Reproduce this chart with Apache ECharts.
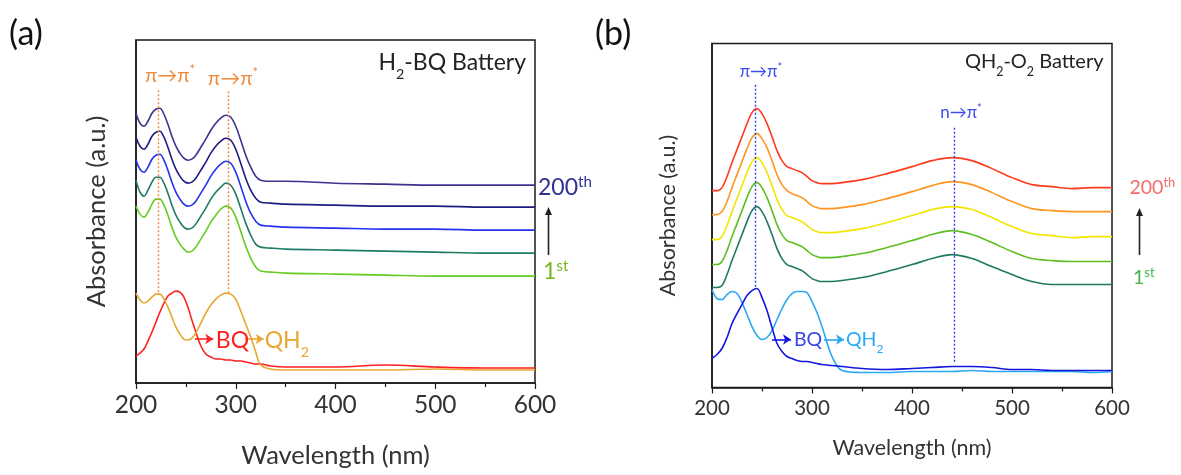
<!DOCTYPE html>
<html>
<head>
<meta charset="utf-8">
<script src="https://cdn.jsdelivr.net/npm/echarts/dist/echarts.min.js"></script>
<style>
  html, body { margin: 0; padding: 0; background: #fff; }
  #main { width: 1181px; height: 475px; }
</style>
</head>
<body>
<div id="main"></div>
<script>
// ---- panel (a): H2-BQ battery ----
const wlA = [200, 204, 208, 212, 216, 220, 224, 228, 232, 236, 240, 244, 248, 252, 256, 260, 265, 270,
  275, 280, 285, 290, 295, 300, 305, 310, 315, 320, 325, 335, 350, 400, 450, 500, 550, 600];
const cycA200 = [2.70, 2.60, 2.57, 2.62, 2.70, 2.74, 2.75, 2.69, 2.59, 2.47, 2.37, 2.30, 2.25, 2.23, 2.24, 2.28, 2.36, 2.44,
  2.53, 2.60, 2.65, 2.68, 2.66, 2.57, 2.43, 2.28, 2.16, 2.07, 2.03, 2.02, 2.02, 2.00, 1.99, 1.98, 1.98, 1.98];
const cycA150 = [2.46, 2.37, 2.34, 2.39, 2.47, 2.51, 2.52, 2.46, 2.36, 2.24, 2.14, 2.07, 2.02, 2.00, 2.01, 2.05, 2.13, 2.21,
  2.30, 2.37, 2.42, 2.45, 2.43, 2.34, 2.20, 2.05, 1.93, 1.85, 1.81, 1.80, 1.79, 1.78, 1.77, 1.77, 1.76, 1.76];
const cycA100 = [2.23, 2.14, 2.11, 2.16, 2.24, 2.28, 2.29, 2.23, 2.13, 2.01, 1.91, 1.84, 1.79, 1.77, 1.78, 1.82, 1.90, 1.98,
  2.07, 2.14, 2.19, 2.22, 2.20, 2.11, 1.97, 1.82, 1.70, 1.62, 1.58, 1.57, 1.56, 1.55, 1.54, 1.54, 1.53, 1.53];
const cycA50 = [2.03, 1.91, 1.87, 1.93, 2.01, 2.06, 2.06, 2.00, 1.90, 1.78, 1.68, 1.61, 1.56, 1.54, 1.55, 1.59, 1.67, 1.75,
  1.84, 1.91, 1.96, 2.00, 1.98, 1.89, 1.75, 1.60, 1.48, 1.39, 1.36, 1.35, 1.34, 1.33, 1.32, 1.31, 1.30, 1.30];
const cycA1 = [1.77, 1.69, 1.66, 1.71, 1.79, 1.84, 1.84, 1.78, 1.68, 1.56, 1.46, 1.39, 1.34, 1.31, 1.32, 1.36, 1.44, 1.52,
  1.61, 1.68, 1.74, 1.77, 1.75, 1.66, 1.52, 1.37, 1.25, 1.16, 1.12, 1.11, 1.10, 1.09, 1.08, 1.07, 1.07, 1.07];
const qh2A = [0.90, 0.83, 0.80, 0.82, 0.86, 0.89, 0.89, 0.84, 0.76, 0.66, 0.56, 0.49, 0.44, 0.43, 0.45, 0.50, 0.60, 0.70,
  0.78, 0.84, 0.88, 0.90, 0.89, 0.84, 0.72, 0.59, 0.46, 0.31, 0.18, 0.14, 0.13, 0.13, 0.13, 0.14, 0.13, 0.13];
const bqA = [0.27, 0.30, 0.34, 0.42, 0.51, 0.61, 0.71, 0.80, 0.87, 0.90, 0.92, 0.91, 0.86, 0.76, 0.63, 0.51, 0.37, 0.29,
  0.26, 0.24, 0.24, 0.23, 0.23, 0.22, 0.22, 0.21, 0.20, 0.19, 0.19, 0.17, 0.16, 0.16, 0.18, 0.16, 0.15, 0.15];

// ---- panel (b): QH2-O2 battery ----
const wlB = [200, 205, 210, 215, 220, 225, 230, 235, 240, 245, 250, 255, 260, 265, 270, 275, 280, 285, 290,
  295, 300, 305, 310, 320, 330, 350, 375, 400, 420, 440, 460, 480, 500, 520, 540, 560, 580, 600];
const cycB200 = [1.97, 1.97, 2.00, 2.11, 2.25, 2.38, 2.51, 2.64, 2.75, 2.79, 2.74, 2.64, 2.51, 2.37, 2.27, 2.21, 2.19, 2.17, 2.15,
  2.11, 2.07, 2.05, 2.04, 2.04, 2.05, 2.08, 2.14, 2.21, 2.27, 2.30, 2.27, 2.19, 2.10, 2.03, 2.01, 1.99, 2.00, 2.00];
const cycB150 = [1.73, 1.73, 1.76, 1.86, 2.00, 2.13, 2.26, 2.39, 2.50, 2.54, 2.49, 2.40, 2.27, 2.13, 2.03, 1.97, 1.94, 1.92, 1.90,
  1.86, 1.82, 1.80, 1.79, 1.79, 1.80, 1.83, 1.89, 1.96, 2.02, 2.06, 2.03, 1.95, 1.86, 1.79, 1.77, 1.76, 1.76, 1.76];
const cycB100 = [1.48, 1.48, 1.51, 1.62, 1.76, 1.89, 2.02, 2.15, 2.26, 2.30, 2.25, 2.15, 2.02, 1.88, 1.78, 1.72, 1.70, 1.68, 1.66,
  1.62, 1.58, 1.56, 1.55, 1.55, 1.56, 1.59, 1.65, 1.72, 1.78, 1.81, 1.78, 1.70, 1.61, 1.54, 1.52, 1.50, 1.51, 1.51];
const cycB50 = [1.23, 1.23, 1.26, 1.37, 1.51, 1.64, 1.77, 1.90, 2.01, 2.05, 2.00, 1.90, 1.77, 1.63, 1.53, 1.47, 1.45, 1.43, 1.41,
  1.37, 1.33, 1.31, 1.30, 1.30, 1.31, 1.34, 1.40, 1.47, 1.53, 1.57, 1.53, 1.45, 1.36, 1.29, 1.27, 1.26, 1.26, 1.26];
const cycB1 = [1.00, 1.00, 1.02, 1.13, 1.27, 1.40, 1.53, 1.66, 1.77, 1.81, 1.76, 1.66, 1.53, 1.39, 1.29, 1.23, 1.21, 1.19, 1.17,
  1.13, 1.09, 1.07, 1.06, 1.06, 1.07, 1.10, 1.16, 1.23, 1.29, 1.33, 1.29, 1.21, 1.13, 1.06, 1.03, 1.03, 1.03, 1.03];
const qh2B = [0.98, 0.89, 0.88, 0.93, 0.96, 0.94, 0.85, 0.73, 0.61, 0.52, 0.48, 0.50, 0.57, 0.68, 0.79, 0.88, 0.94, 0.96, 0.96,
  0.95, 0.86, 0.75, 0.61, 0.31, 0.17, 0.15, 0.15, 0.16, 0.16, 0.16, 0.17, 0.16, 0.16, 0.16, 0.16, 0.16, 0.15, 0.16];
const bqB = [0.29, 0.33, 0.39, 0.50, 0.64, 0.74, 0.83, 0.92, 0.97, 0.99, 0.90, 0.77, 0.60, 0.44, 0.36, 0.31, 0.29, 0.27, 0.26,
  0.26, 0.25, 0.24, 0.23, 0.22, 0.21, 0.19, 0.18, 0.19, 0.20, 0.21, 0.21, 0.20, 0.18, 0.18, 0.17, 0.17, 0.17, 0.17];

const xTicks = [200, 300, 400, 500, 600];
// peak positions used for the dotted guide lines
const peaksA = [222, 292];
const peaksB = [243.7, 442.4];

const FONT = 'Lato, "Open Sans", "DejaVu Sans", sans-serif';
const INK = '#1a1a1a';
const TXT = '#333';

const chart = echarts.init(document.getElementById('main'), null, { renderer: 'canvas' });

function pairs(wl, vals) {
  return wl.map((x, i) => [x, vals[i]]);
}

function curve(g, wl, vals, color, extra) {
  return Object.assign({
    type: 'line',
    xAxisIndex: g,
    yAxisIndex: g,
    data: pairs(wl, vals),
    smooth: 0.35,
    symbol: 'none',
    showSymbol: false,
    silent: true,
    lineStyle: { width: 1.6, color: color },
    itemStyle: { color: color },
  }, extra || {});
}

function guide(x, y0, y1, color) {
  return [{ coord: [x, y0], lineStyle: { color: color, type: [2, 2], width: 1.4 } }, { coord: [x, y1] }];
}

function arrow(x0, x1, y, color) {
  return [{ coord: [x0, y], lineStyle: { color: color, type: 'solid', width: 1.6 } }, { coord: [x1, y] }];
}

function xAxis(g, fs, nameGap) {
  return {
    type: 'value', gridIndex: g, min: 200, max: 600, interval: 100,
    axisLine: { show: true, onZero: false, lineStyle: { color: INK, width: 1.5 } },
    axisTick: { show: true, inside: false, length: 6, lineStyle: { color: INK, width: 1.2 } },
    minorTick: { show: true, splitNumber: 2, length: 4, lineStyle: { color: INK, width: 1.2 } },
    splitLine: { show: false }, minorSplitLine: { show: false },
    axisLabel: { fontSize: fs, color: TXT, margin: 10, fontFamily: FONT, formatter: v => xTicks.includes(v) ? String(v) : '' },
    name: 'Wavelength (nm)', nameLocation: 'middle', nameGap: nameGap,
    nameTextStyle: { fontSize: fs + 1, color: TXT, fontFamily: FONT },
  };
}

function yAxis(g, max, fs, nameGap) {
  return {
    type: 'value', gridIndex: g, min: 0, max: max,
    axisLine: { show: true, onZero: false, lineStyle: { color: INK, width: 1.5 } },
    axisTick: { show: false }, axisLabel: { show: false }, splitLine: { show: false },
    name: 'Absorbance (a.u.)', nameLocation: 'middle', nameGap: nameGap,
    nameTextStyle: { fontSize: fs, color: TXT, fontFamily: FONT },
  };
}

const markBase = { silent: true, symbol: ['none', 'none'], label: { show: false }, animation: false };

chart.setOption({
  animation: false,
  backgroundColor: '#fff',
  grid: [
    { left: 136, top: 40, width: 399, height: 343, show: true, borderColor: INK, borderWidth: 1.5, outerBoundsMode: 'none' },
    { left: 712, top: 43.5, width: 400, height: 344, show: true, borderColor: INK, borderWidth: 1.5, outerBoundsMode: 'none' },
  ],
  xAxis: [xAxis(0, 24.5, 60), xAxis(1, 20.5, 50)],
  yAxis: [yAxis(0, 3.433, 25.5, 26), yAxis(1, 3.442, 21.5, 33)],
  series: [
    curve(0, wlA, cycA1, '#66cc22'),
    curve(0, wlA, cycA50, '#1f7a66'),
    curve(0, wlA, cycA100, '#2233ee'),
    curve(0, wlA, cycA150, '#1c1c84'),
    curve(0, wlA, cycA200, '#40308f'),
    curve(0, wlA, bqA, '#ff2020', {
      markLine: Object.assign({}, markBase, { symbol: ['none', 'arrow'], symbolSize: [8, 8],
        data: [arrow(259, 277.5, 0.44, '#ff2020')] }),
    }),
    curve(0, wlA, qh2A, '#e6a82e', {
      markLine: Object.assign({}, markBase, {
        data: [guide(peaksA[0], 2.93, 0.89, '#f08a3c'), guide(peaksA[1], 2.92, 0.89, '#f08a3c')],
      }),
    }),
    curve(0, wlA, qh2A, '#e6a82e', {
      lineStyle: { width: 0 },
      markLine: Object.assign({}, markBase, { symbol: ['none', 'arrow'], symbolSize: [8, 8],
        data: [arrow(309, 328, 0.44, '#e6a82e')] }),
    }),

    curve(1, wlB, cycB1, '#1f7a5c'),
    curve(1, wlB, cycB50, '#5cbf1f'),
    curve(1, wlB, cycB100, '#f2e600'),
    curve(1, wlB, cycB150, '#ff9520'),
    curve(1, wlB, cycB200, '#ff3b1f'),
    curve(1, wlB, qh2B, '#2aa8f2', {
      markLine: Object.assign({}, markBase, { symbol: ['none', 'arrow'], symbolSize: [8, 8],
        data: [arrow(312, 332, 0.48, '#2aa8f2')] }),
    }),
    curve(1, wlB, bqB, '#1515e0', {
      markLine: Object.assign({}, markBase, {
        data: [guide(peaksB[0], 3.03, 1.00, '#2b3cf0'), guide(peaksB[1], 2.60, 0.25, '#2b3cf0')],
      }),
    }),
    curve(1, wlB, bqB, '#1515e0', {
      lineStyle: { width: 0 },
      markLine: Object.assign({}, markBase, { symbol: ['none', 'arrow'], symbolSize: [8, 8],
        data: [arrow(260, 279, 0.48, '#1515e0')] }),
    }),
  ],
});

// ---- annotation texts ----
function at(g, x, y) {
  return chart.convertToPixel({ gridIndex: g }, [x, y]);
}

function richText(x, y, text, size, color, align, rich) {
  return {
    type: 'text', x: x, y: y, silent: true, z: 100,
    style: {
      text: text, fill: color, fontSize: size, fontFamily: FONT,
      align: align || 'left', verticalAlign: 'middle', rich: rich || {},
    },
  };
}

function supRich(size, color) {
  return {
    t: { fontSize: size, fill: color, fontFamily: FONT, lineHeight: size * 1.2 },
    s: { fontSize: size * 0.66, fill: color, fontFamily: FONT, verticalAlign: 'top', lineHeight: size * 1.1 },
  };
}

function subRich(size, color) {
  return {
    t: { fontSize: size, fill: color, fontFamily: FONT, lineHeight: size * 1.2 },
    b: { fontSize: size * 0.62, fill: color, fontFamily: FONT, verticalAlign: 'bottom', lineHeight: size * 1.2, padding: [0, 0, -size * 0.2, 0] },
  };
}

function arrowUp(x, yTail, yHead) {
  return [
    { type: 'line', silent: true, shape: { x1: x, y1: yTail, x2: x, y2: yHead + 6 }, style: { stroke: '#222', lineWidth: 1.6 } },
    { type: 'polygon', silent: true, shape: { points: [[x - 3.5, yHead + 8], [x + 3.5, yHead + 8], [x, yHead]] }, style: { fill: '#222' } },
  ];
}

const g = [];
g.push(richText(9, 34, '(a)', 34, '#111'));
g.push(richText(595, 34, '(b)', 34, '#111'));

// panel (a)
const orangeA = '#f08a3c';
let p = at(0, 209, 3.08);
g.push(richText(p[0], p[1], '{t|π→π}{s|*}', 0, orangeA, 'left', supRich(20, orangeA)));
p = at(0, 272, 3.05);
g.push(richText(p[0], p[1], '{t|π→π}{s|*}', 0, orangeA, 'left', supRich(20, orangeA)));
p = at(0, 280, 0.42);
g.push(richText(p[0], p[1], '{t|BQ}', 0, '#ff2020', 'left', subRich(23, '#ff2020')));
p = at(0, 329, 0.42);
g.push(richText(p[0], p[1], '{t|QH}{b|2}', 0, '#e6a82e', 'left', subRich(23, '#e6a82e')));
g.push(richText(526, 63, '{t|H}{b|2}{t|-BQ Battery}', 0, '#222', 'right', subRich(23, '#222')));
g.push(richText(538, 188, '{t|200}{s|th}', 0, '#2e3192', 'left', supRich(23, '#2e3192')));
g.push(richText(543, 272, '{t|1}{s|st}', 0, '#7ab51d', 'left', supRich(23, '#7ab51d')));
g.push(...arrowUp(548.5, 255, 207));

// panel (b)
const blueB = '#3d4cf0';
p = at(1, 249, 3.16);
g.push(richText(p[0], p[1], '{t|π→π}{s|*}', 0, blueB, 'center', supRich(17, blueB)));
p = at(1, 449, 2.75);
g.push(richText(p[0], p[1], '{t|n→π}{s|*}', 0, blueB, 'center', supRich(17, blueB)));
p = at(1, 282, 0.48);
g.push(richText(p[0], p[1], '{t|BQ}', 0, '#3a45e6', 'left', subRich(19.5, '#3a45e6')));
p = at(1, 334, 0.48);
g.push(richText(p[0], p[1], '{t|QH}{b|2}', 0, '#29a9f5', 'left', subRich(19.5, '#29a9f5')));
g.push(richText(1103.5, 62, '{t|QH}{b|2}{t|-O}{b|2}{t| Battery}', 0, '#222', 'right', subRich(20, '#222')));
g.push(richText(1129.5, 188, '{t|200}{s|th}', 0, '#f26d6d', 'left', supRich(19.5, '#f26d6d')));
g.push(richText(1133, 278, '{t|1}{s|st}', 0, '#3fb34a', 'left', supRich(19.5, '#3fb34a')));
g.push(...arrowUp(1139.5, 255, 208));

chart.setOption({ graphic: g });
</script>
</body>
</html>
